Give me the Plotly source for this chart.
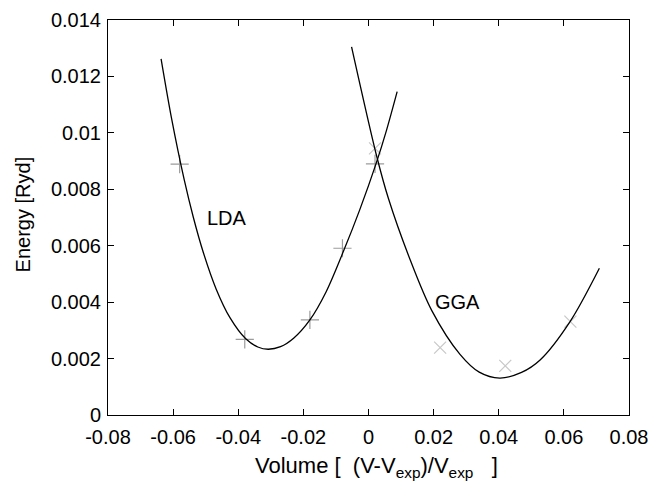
import plotly.graph_objects as go

# Data
lda_pts_x = [-0.058, -0.038, -0.018, -0.008, 0.002]
lda_pts_y = [0.00889, 0.00268, 0.00337, 0.00591, 0.00890]

gga_pts_x = [0.002, 0.022, 0.042, 0.062]
gga_pts_y = [0.00945, 0.00239, 0.00174, 0.00331]

# fitted curves
lda_fit_x = [-0.0637, -0.0605, -0.0566, -0.0538, -0.0507, -0.0468, -0.0425, -0.0377,
             -0.0340, -0.0308, -0.0270, -0.0230, -0.0180, -0.0130, -0.0077, -0.0027,
             0.0023, 0.0055, 0.0088]
lda_fit_y = [0.01262, 0.01052, 0.00834, 0.00701, 0.00575, 0.00447, 0.00344, 0.00270,
             0.00241, 0.00233, 0.00242, 0.00272, 0.00337, 0.00437, 0.00580, 0.00727,
             0.00890, 0.01008, 0.01146]

gga_fit_x = [-0.0052, 0.0025, 0.0061, 0.0127, 0.0194, 0.0281, 0.0340, 0.0403,
             0.0470, 0.0527, 0.0619, 0.0709]
gga_fit_y = [0.01305, 0.00918, 0.00768, 0.00553, 0.00371, 0.00215, 0.00152, 0.00131,
             0.00151, 0.00195, 0.00331, 0.00520]

x_ticks = [-0.08, -0.06, -0.04, -0.02, 0, 0.02, 0.04, 0.06, 0.08]
x_tick_text = ["-0.08", "-0.06", "-0.04", "-0.02", "0", "0.02", "0.04", "0.06", "0.08"]
y_ticks = [0, 0.002, 0.004, 0.006, 0.008, 0.01, 0.012, 0.014]
y_tick_text = ["0", "0.002", "0.004", "0.006", "0.008", "0.01", "0.012", "0.014"]

FONT = "Liberation Sans, Arial, Helvetica, sans-serif"
FS = 20

fig = go.Figure()
fig.add_trace(go.Scatter(x=lda_pts_x, y=lda_pts_y, mode="markers",
                         marker=dict(symbol="cross-thin", size=13,
                                     line=dict(color="#9c9c9c", width=1.2)),
                         showlegend=False))
fig.add_trace(go.Scatter(x=gga_pts_x, y=gga_pts_y, mode="markers",
                         marker=dict(symbol="x-thin", size=12,
                                     line=dict(color="#c8c8c8", width=1.2)),
                         showlegend=False))
fig.add_trace(go.Scatter(x=lda_fit_x, y=lda_fit_y, mode="lines",
                         line=dict(color="black", width=1.3, shape="spline", smoothing=0.9),
                         showlegend=False))
fig.add_trace(go.Scatter(x=gga_fit_x, y=gga_fit_y, mode="lines",
                         line=dict(color="black", width=1.3, shape="spline", smoothing=0.9),
                         showlegend=False))

fig.add_annotation(x=-0.0435, y=0.00698, text="LDA", showarrow=False,
                   font=dict(family=FONT, size=FS, color="black"))
fig.add_annotation(x=0.0272, y=0.00399, text="GGA", showarrow=False,
                   font=dict(family=FONT, size=FS, color="black"))

# axis titles
fig.add_annotation(xref="paper", yref="paper", x=0.515, y=-0.132,
                   xanchor="center", yanchor="middle", showarrow=False,
                   text="Volume [\u00a0\u00a0(V-V<sub>exp</sub>)/V<sub>exp</sub>\u00a0\u00a0\u00a0]",
                   font=dict(family=FONT, size=22, color="black"))
fig.add_annotation(xref="paper", yref="paper", x=-0.163, y=0.508,
                   xanchor="center", yanchor="middle", showarrow=False, textangle=-90,
                   text="Energy [Ryd]",
                   font=dict(family=FONT, size=FS, color="black"))

axis_common = dict(showline=True, linecolor="black", linewidth=1, mirror="ticks",
                   ticks="inside", ticklen=6, tickcolor="black", tickwidth=1,
                   showgrid=False, zeroline=False, automargin=False,
                   tickfont=dict(family=FONT, size=FS, color="black"))

fig.update_xaxes(range=[-0.08, 0.08], tickvals=x_ticks, ticktext=x_tick_text,
                 ticklabelstandoff=4, **axis_common)
fig.update_yaxes(range=[0, 0.014], tickvals=y_ticks, ticktext=y_tick_text,
                 ticklabelstandoff=2, **axis_common)

fig.update_layout(width=654, height=481,
                  margin=dict(l=108, r=25, t=20, b=66),
                  plot_bgcolor="white", paper_bgcolor="white",
                  font=dict(family=FONT, size=FS, color="black"))

fig.write_html("out.html", config={"displayModeBar": False},
               post_script="document.body.style.margin='0px';")
